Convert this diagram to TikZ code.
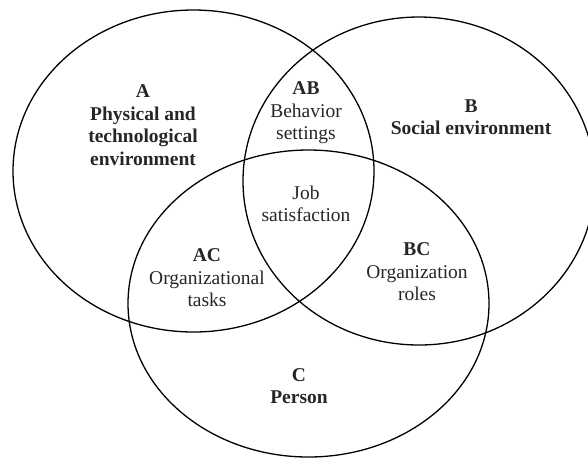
\documentclass[tikz,border=0pt]{standalone}
\usepackage{fontspec}
\setmainfont{Liberation Serif}
\begin{document}
\begin{tikzpicture}[x=1pt, y=-1pt,
    ring/.style={draw=black, line width=1.3pt},
    lbl/.style={align=center, text=black!85, font=\fontsize{19.5}{22.5}\selectfont, inner sep=0pt}]
    \useasboundingbox (0,0) rectangle (588,459);

    % Draw the three sets
    \draw[ring] (193.5,171) ellipse (180.5pt and 161pt); % A
    \draw[ring] (419,181) ellipse (176pt and 164pt);     % B
    \draw[ring] (308.5,303.5) ellipse (180.5pt and 153.5pt); % C

    % Labels for single sets
    \node[lbl] (A) at (143,125) {\textbf{A}\\ \textbf{Physical and}\\ \textbf{technological}\\ \textbf{environment}};
    \node[lbl] (B) at (471,117) {\textbf{B}\\ \textbf{Social environment}};
    \node[lbl] (C) at (299,386) {\textbf{C}\\ \textbf{Person}};

    % Labels for the overlaps
    \node[lbl] (AB) at (306,113) {\textbf{AB}\\ Behavior\\ settings};
    \node[lbl] (AC) at (207,278) {\textbf{AC}\\ Organizational\\ tasks};
    \node[lbl] (BC) at (417,272) {\textbf{BC}\\ Organization\\ roles};
    \node[lbl] (ABC) at (306,204) {Job\\ satisfaction};
\end{tikzpicture}
\end{document}
